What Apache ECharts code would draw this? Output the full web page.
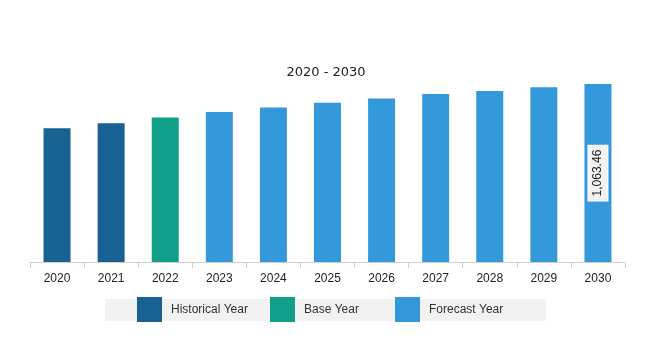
<!DOCTYPE html>
<html><head><meta charset="utf-8">
<script src="https://cdn.jsdelivr.net/npm/echarts@6/dist/echarts.min.js"></script>
<style>html,body{margin:0;padding:0;background:#fff}#c{width:669px;height:360px}</style>
</head><body><div id="c"></div>
<script>
var categories = ['2020','2021','2022','2023','2024','2025','2026','2027','2028','2029','2030'];
var values = [799, 830, 864, 896, 924, 952, 978, 1004, 1023, 1044, 1063.46];
var yearTypes = ['Historical Year','Historical Year','Base Year','Forecast Year','Forecast Year','Forecast Year','Forecast Year','Forecast Year','Forecast Year','Forecast Year','Forecast Year'];
var seriesNames = ['Historical Year','Base Year','Forecast Year'];
var colors = {'Historical Year':'#176293','Base Year':'#129f8a','Forecast Year':'#3499da'};
var labelledYear = '2030';

function fmt(v){return v.toLocaleString('en-US',{minimumFractionDigits:2,maximumFractionDigits:2});}

var series = seriesNames.map(function(name){
  return {
    name: name, type: 'bar', stack: 'all', barWidth: 27,
    itemStyle: {color: colors[name]},
    data: values.map(function(v,i){
      if (yearTypes[i] !== name) return '-';
      if (categories[i] === labelledYear) {
        return {value: v, label: {show: true, position: 'inside', rotate: 90,
          formatter: function(p){return fmt(p.value);},
          color: '#222', fontSize: 12, fontFamily: 'Liberation Sans',
          backgroundColor: '#f2f2f2', borderColor: '#ffffff', borderWidth: 1, padding: [4,4,3,4]}};
      }
      return v;
    })
  };
});

var legendLefts = [137, 270, 395];
var chart = echarts.init(document.getElementById('c'));
chart.setOption({
  animation: false,
  title: {text: '2020 - 2030', left: 326, top: 66, textAlign: 'center', padding: 0,
    textStyle: {fontSize: 13, fontWeight: 'normal', color: '#222', fontFamily: 'DejaVu Sans'}},
  graphic: [{type: 'rect', shape: {x: 105, y: 299, width: 441, height: 22}, style: {fill: '#f2f2f2'}, z: -1}],
  legend: seriesNames.map(function(n, i){
    return {data: [n], left: legendLefts[i], top: 297, padding: 0, itemWidth: 25, itemHeight: 25, itemGap: 0,
      icon: 'rect', selectedMode: false,
      textStyle: {fontSize: 12, color: '#333', fontFamily: 'Liberation Sans', padding: [0,0,0,4]}};
  }),
  grid: {left: 30, right: 44, top: 78, bottom: 98},
  xAxis: {type: 'category', data: categories,
    axisLine: {lineStyle: {color: '#d0d0d0'}},
    axisTick: {show: true, length: 6, lineStyle: {color: '#d0d0d0'}},
    axisLabel: {fontSize: 12, color: '#222', margin: 11, fontFamily: 'Liberation Sans'}},
  yAxis: {type: 'value', min: 0, max: 1100, show: false, splitLine: {show: false}},
  series: series
});
</script></body></html>
